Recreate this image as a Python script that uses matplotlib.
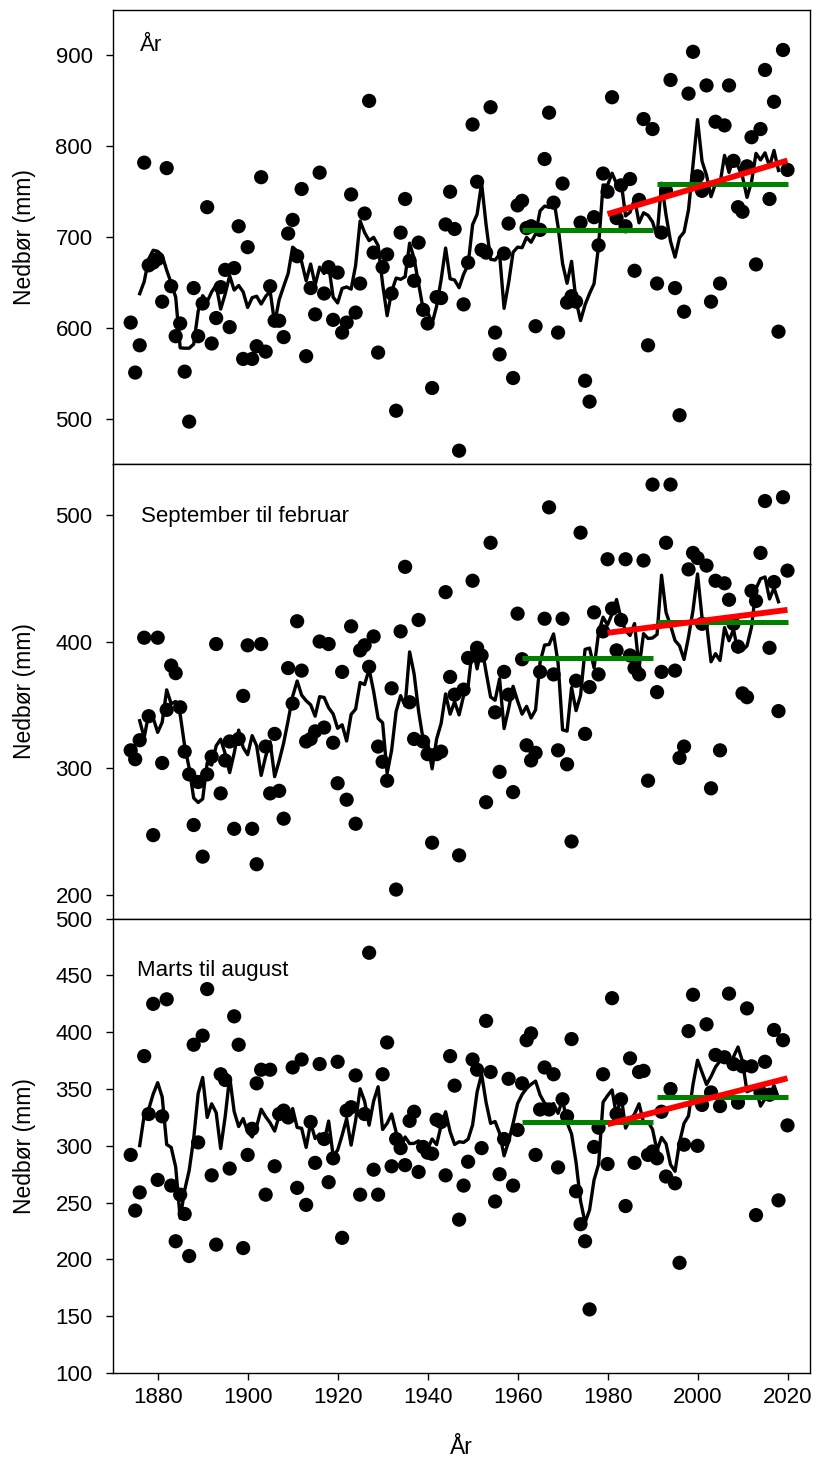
import matplotlib
matplotlib.use('Agg')
import matplotlib.pyplot as plt
import numpy as np
import pandas as pd

plt.rcParams['font.family'] = ['Liberation Sans', 'DejaVu Sans']

years = np.arange(1874, 2021)

# annual precipitation (mm)
aar = [606, 551, 581, 782, 669, 672, 676, 629, 776, 646,
       591, 605, 552, 497, 644, 591, 627, 733, 583, 611,
       645, 664, 601, 666, 712, 566, 689, 566, 580, 766,
       574, 646, 608, 608, 590, 704, 719, 679, 753, 569,
       644, 615, 771, 638, 667, 609, 661, 595, 606, 747,
       617, 649, 726, 850, 683, 573, 667, 681, 638, 509,
       705, 742, 674, 652, 694, 620, 605, 534, 634, 633,
       714, 750, 709, 465, 626, 672, 824, 761, 686, 683,
       843, 595, 571, 682, 715, 545, 735, 740, 710, 712,
       602, 708, 786, 837, 738, 595, 759, 628, 635, 629,
       716, 542, 519, 722, 691, 770, 750, 854, 721, 757,
       712, 764, 663, 741, 830, 581, 819, 649, 705, 751,
       873, 644, 504, 618, 858, 904, 767, 751, 867, 629,
       827, 649, 823, 867, 784, 733, 728, 778, 810, 670,
       819, 884, 742, 849, 596, 906, 774]

sep_feb = [314, 307, 322, 403, 341, 247, 403, 304, 346, 381,
           375, 348, 313, 295, 255, 289, 230, 295, 309, 398,
           280, 306, 321, 252, 323, 357, 397, 252, 224, 398,
           317, 280, 327, 282, 260, 379, 351, 416, 377, 321,
           323, 329, 400, 332, 398, 320, 288, 376, 275, 412,
           256, 393, 397, 380, 404, 317, 305, 290, 363, 204,
           408, 459, 352, 323, 417, 321, 311, 241, 311, 313,
           439, 372, 358, 231, 362, 387, 448, 395, 389, 273,
           478, 344, 297, 376, 358, 281, 422, 386, 318, 306,
           312, 376, 418, 506, 374, 314, 418, 303, 242, 369,
           486, 327, 364, 423, 374, 408, 465, 426, 393, 417,
           465, 389, 379, 374, 464, 290, 524, 360, 376, 478,
           524, 377, 308, 317, 457, 470, 466, 414, 460, 284,
           448, 314, 446, 433, 414, 396, 359, 356, 440, 432,
           470, 511, 395, 447, 345, 514, 456]

mar_aug = [292, 243, 259, 379, 328, 425, 270, 326, 429, 265,
           216, 257, 240, 203, 389, 303, 397, 438, 274, 213,
           363, 358, 280, 414, 389, 210, 292, 315, 355, 367,
           257, 367, 282, 328, 331, 325, 369, 263, 376, 248,
           321, 285, 372, 306, 268, 289, 374, 219, 331, 334,
           362, 257, 328, 470, 279, 257, 363, 391, 282, 306,
           298, 283, 322, 330, 277, 299, 294, 293, 323, 321,
           274, 379, 353, 235, 265, 286, 376, 367, 298, 410,
           365, 251, 275, 306, 359, 265, 314, 355, 393, 399,
           292, 332, 369, 332, 363, 281, 341, 326, 394, 260,
           231, 216, 156, 299, 316, 363, 284, 430, 328, 341,
           247, 377, 285, 365, 366, 292, 295, 289, 330, 273,
           350, 267, 197, 301, 401, 433, 300, 336, 407, 347,
           380, 335, 378, 434, 372, 338, 370, 421, 370, 239,
           347, 374, 345, 402, 252, 393, 318]

titles = ['År', 'September til februar', 'Marts til august']
series = [aar, sep_feb, mar_aug]
ylims = [(450, 950), (181, 540), (100, 500)]
yticks = [np.arange(500, 901, 100), np.arange(200, 501, 100), np.arange(100, 501, 50)]
title_pos = [(0.039, 0.910), (0.041, 0.874), (0.035, 0.873)]

normals = [(1961, 1990), (1991, 2020)]
trend_span = (1980, 2020)

fig = plt.figure(figsize=(8.16, 14.6), dpi=100)
left, right = 112.7 / 816, 810 / 816
top, bottom = 1 - 10 / 1460, 1 - 1373 / 1460
h = (top - bottom) / 3

for k, (vals, title) in enumerate(zip(series, titles)):
    ax = fig.add_axes([left, top - (k + 1) * h, right - left, h])
    s = pd.Series(vals, index=years, dtype=float)
    roll = s.rolling(5, center=True).mean()   # 5-year running mean

    ax.scatter(years, s.values, s=105, color='black', edgecolors='none', zorder=2)
    ax.plot(years, roll.values, color='black', lw=2.4, zorder=3)

    # normal-period means
    for y0, y1 in normals:
        m = s.loc[y0:y1].mean()
        ax.plot([y0, y1], [m, m], color='#008000', lw=3.6, solid_capstyle='butt', zorder=4)

    # linear trend 1980-2020
    sub = s.loc[trend_span[0]:trend_span[1]]
    coef = np.polyfit(sub.index.values, sub.values, 1)
    tx = np.array(trend_span)
    ax.plot(tx, np.polyval(coef, tx), color='#ff0000', lw=4.2, solid_capstyle='butt', zorder=5)

    ax.set_xlim(1870, 2025)
    ax.set_ylim(*ylims[k])
    ax.set_yticks(yticks[k])
    ax.set_xticks(np.arange(1880, 2021, 20))
    ax.tick_params(direction='out', length=5, width=1, labelsize=16, pad=9.5)
    ax.tick_params(axis='x', pad=5)
    if k < 2:
        ax.tick_params(axis='x', labelbottom=False)
    for sp in ax.spines.values():
        sp.set_linewidth(1.0)

    ax.text(title_pos[k][0], title_pos[k][1], title, transform=ax.transAxes,
            fontsize=16, va='baseline', ha='left')

    yc = top - (k + 0.5) * h
    fig.text(24 / 816, yc, 'Nedbør (mm)', rotation=90, fontsize=16.5,
             ha='center', va='center')

fig.text((left + right) / 2, 1 - 1447 / 1460, 'År', fontsize=16.5, ha='center', va='center')

fig.savefig('out.png', dpi=100)
